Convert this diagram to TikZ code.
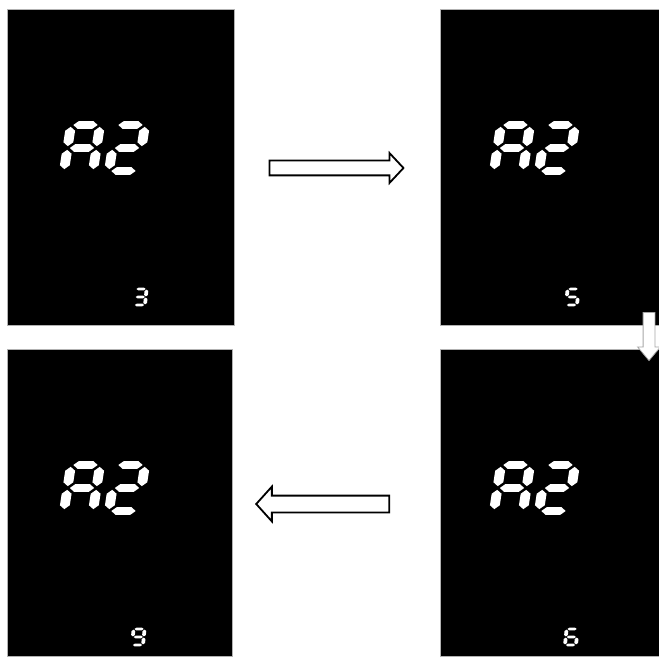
\documentclass[tikz,border=0pt]{standalone}
\usepackage{tikz}
\usetikzlibrary{shapes.arrows}

% seven-segment pieces, unit cell 1 x 2
\newcommand\segw{0.17}
\newcommand\segh[1]{\fill[lcd] (0.08,#1) -- (0.08+\segw,#1+\segw) -- (0.92-\segw,#1+\segw) -- (0.92,#1) -- (0.92-\segw,#1-\segw) -- (0.08+\segw,#1-\segw) -- cycle;}
\newcommand\segv[2]{\fill[lcd] (#1,#2+0.08) -- (#1+\segw,#2+0.08+\segw) -- (#1+\segw,#2+0.92-\segw) -- (#1,#2+0.92) -- (#1-\segw,#2+0.92-\segw) -- (#1-\segw,#2+0.08+\segw) -- cycle;}
\newcommand\lcda{\segh{2}}
\newcommand\lcdb{\segv{1}{1}}
\newcommand\lcdc{\segv{1}{0}}
\newcommand\lcdd{\segh{0}}
\newcommand\lcde{\segv{0}{0}}
\newcommand\lcdf{\segv{0}{1}}
\newcommand\lcdg{\segh{1}}
\newcommand\lcd[2]{\begin{scope}[#1]\foreach \s in {#2}{\csname lcd\s\endcsname}\end{scope}}

\begin{document}
\begin{tikzpicture}[x=1pt, y=1pt,
    screen/.style={rectangle, fill=black, draw=gray!60, line width=0.6pt, inner sep=0pt},
    flow/.style={single arrow, draw=black, fill=white, line width=1.8pt, inner xsep=0pt},
    lcd/.style={fill=white},
    bigseg/.style={x={(29pt,0pt)}, y={(3.5pt,23pt)}},
    smallseg/.style={x={(11pt,0pt)}, y={(0.8pt,8pt)}}
]
\useasboundingbox (0,0) rectangle (659,657);

% screens
\node[screen, minimum width=227pt, minimum height=316pt] (screen1) at (120.5,490) {};
\node[screen, minimum width=219pt, minimum height=316pt] (screen2) at (549.5,490) {};
\node[screen, minimum width=219pt, minimum height=307pt] (screen3) at (549.5,154.5) {};
\node[screen, minimum width=225pt, minimum height=307pt] (screen4) at (119.5,154.5) {};

% big readout
\lcd{shift={(64,486)}, bigseg}{a,b,c,e,f,g}
\lcd{shift={(109,486)}, bigseg}{a,b,g,e,d}
\lcd{shift={(494,486)}, bigseg}{a,b,c,e,f,g}
\lcd{shift={(539,486)}, bigseg}{a,b,g,e,d}
\lcd{shift={(494,146)}, bigseg}{a,b,c,e,f,g}
\lcd{shift={(539,146)}, bigseg}{a,b,g,e,d}
\lcd{shift={(64,146)}, bigseg}{a,b,c,e,f,g}
\lcd{shift={(109,146)}, bigseg}{a,b,g,e,d}

% small readout
\lcd{shift={(134,352)}, smallseg}{a,b,c,d,g}
\lcd{shift={(566,352)}, smallseg}{a,f,g,c,d}
\lcd{shift={(565,12)}, smallseg}{a,f,g,e,c,d}
\lcd{shift={(132,12)}, smallseg}{a,b,c,d,f,g}

% arrows
\node[flow, minimum height=134pt, inner ysep=6.5pt, single arrow head extend=7.5pt,
      single arrow tip angle=94] (next1) at (333,489) {};
\node[flow, draw=gray!70, line width=0.8pt, shape border rotate=270, minimum height=48pt,
      inner xsep=5.5pt, inner ysep=5.5pt, single arrow head extend=5.5pt,
      single arrow tip angle=80] (next2) at (649,324) {};
\node[flow, shape border rotate=180, minimum height=133pt, inner ysep=7.5pt,
      single arrow head extend=9pt, single arrow tip angle=96] (next3) at (326.5,153) {};
\end{tikzpicture}
\end{document}
